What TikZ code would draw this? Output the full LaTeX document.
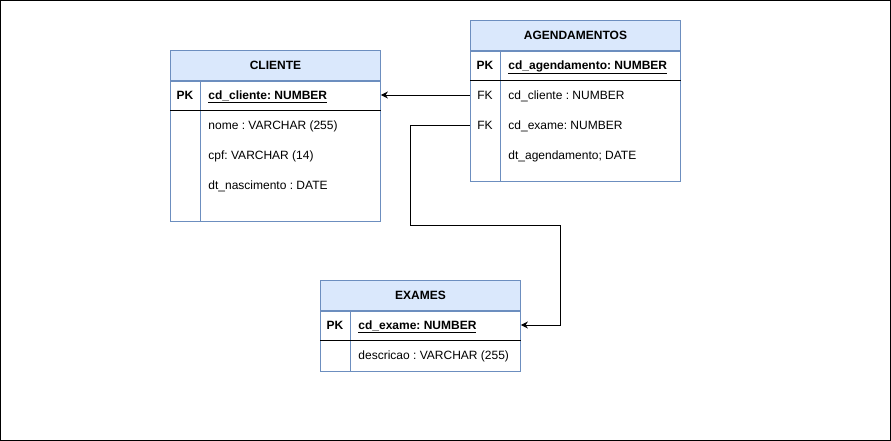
\documentclass[tikz,border=0pt]{standalone}
\usepackage{fontspec}
\setmainfont{Liberation Sans}
\frenchspacing
\usetikzlibrary{positioning, arrows.meta}
\definecolor{tblue}{HTML}{6C8EBF}
\definecolor{tfill}{HTML}{DAE8FC}

\begin{document}
\begin{tikzpicture}[
	x=1pt,
	y=-1pt,
	line width=0.9pt,
	every node/.style={text height=12pt, text depth=3.4pt},
	font=\fontsize{12}{14}\selectfont,
	table head/.style={draw=tblue, fill=tfill, minimum height=30pt, inner sep=0pt, anchor=north west, font=\fontsize{12}{14}\selectfont\bfseries},
	table body/.style={draw=tblue, inner sep=0pt, anchor=north, text height=, text depth=},
	key/.style={inner sep=0pt},
	field/.style={anchor=west, inner sep=0pt},
	>={Stealth[length=7pt, width=7pt]}
]

\useasboundingbox (0,0) rectangle (891,441);
\draw (0.5,0.5) rectangle (890.5,440.5);

% CLIENTE
\node[table head, minimum width=210pt] (cliente) at (170,50) {CLIENTE};
\node[table body, minimum width=210pt, minimum height=140pt] (cliente body) at (cliente.south) {};
\draw[tblue] ([xshift=30pt]cliente body.north west) -- ([xshift=30pt]cliente body.south west);
\draw ([yshift=-30pt]cliente body.north west) -- ([yshift=-30pt]cliente body.north east);
\node[key, font=\fontsize{12}{14}\selectfont\bfseries] (cliente pk) at (185,95) {PK};
\node[field, font=\fontsize{12}{14}\selectfont\bfseries] (cd cliente) at (208,95) {\underline{cd\_cliente: NUMBER}};
\node[field] (nome) at (208,125) {nome : VARCHAR (255)};
\node[field] (cpf) at (208,155) {cpf: VARCHAR (14)};
\node[field] (dt nascimento) at (208,185) {dt\_nascimento : DATE};

% AGENDAMENTOS
\node[table head, minimum width=210pt] (agend) at (470,20) {AGENDAMENTOS};
\node[table body, minimum width=210pt, minimum height=130pt] (agend body) at (agend.south) {};
\draw[tblue] ([xshift=30pt]agend body.north west) -- ([xshift=30pt]agend body.south west);
\draw ([yshift=-30pt]agend body.north west) -- ([yshift=-30pt]agend body.north east);
\node[key, font=\fontsize{12}{14}\selectfont\bfseries] (agend pk) at (485,65) {PK};
\node[key] (agend fk1) at (485,95) {FK};
\node[key] (agend fk2) at (485,125) {FK};
\node[field, font=\fontsize{12}{14}\selectfont\bfseries] (cd agend) at (508,65) {\underline{cd\_agendamento: NUMBER}};
\node[field] (agend cliente) at (508,95) {cd\_cliente : NUMBER};
\node[field] (agend exame) at (508,125) {cd\_exame: NUMBER};
\node[field] (dt agend) at (508,155) {dt\_agendamento; DATE};

% EXAMES
\node[table head, minimum width=200pt] (exames) at (320,280) {EXAMES};
\node[table body, minimum width=200pt, minimum height=60pt] (exames body) at (exames.south) {};
\draw[tblue] ([xshift=30pt]exames body.north west) -- ([xshift=30pt]exames body.south west);
\draw ([yshift=-30pt]exames body.north west) -- ([yshift=-30pt]exames body.north east);
\node[key, font=\fontsize{12}{14}\selectfont\bfseries] (exames pk) at (335,325) {PK};
\node[field, font=\fontsize{12}{14}\selectfont\bfseries] (cd exame) at (358,325) {\underline{cd\_exame: NUMBER}};
\node[field] (descricao) at (358,355) {descricao : VARCHAR (255)};

% relations
\coordinate (turn a) at (410,225);
\coordinate (turn b) at (560,225);
\draw[->] (agend fk1 -| agend body.west) -- (cliente pk -| cliente body.east);
\draw[->] (agend fk2 -| agend body.west) -| (turn a) -- (turn b) |- (exames pk -| exames body.east);

\end{tikzpicture}
\end{document}
